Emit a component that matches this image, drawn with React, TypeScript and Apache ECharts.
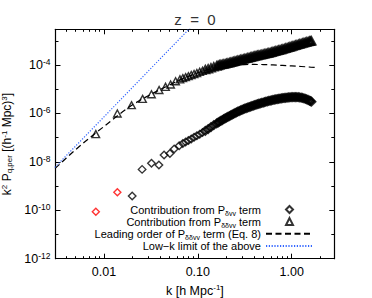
import React, { useEffect, useRef } from 'react';
import * as echarts from 'echarts';

// ---- axis ranges (data units) ----
const X_MIN = 0.00305;
const X_MAX = 2.84;
const Y_MIN = 1e-12;
const Y_MAX = 3.0e-3;

// ---- ticks ----
const xMajorTicks = [0.01, 0.1, 1];
const xTickLabels = ['0.01', '0.10', '1.00'];
const xMinorTicks = [0.004, 0.005, 0.006, 0.007, 0.008, 0.009, 0.02, 0.03, 0.04, 0.05, 0.06, 0.07, 0.08, 0.09, 0.2, 0.3, 0.4, 0.5, 0.6, 0.7, 0.8, 0.9, 2];
const yMajorTicks = [1e-12, 1e-10, 1e-8, 1e-6, 1e-4];
const yMinorTicks = [1e-11, 1e-9, 1e-7, 1e-5, 1e-3];

// ---- P_ddvv contribution (triangles) ----
const triK = [0.0082, 0.0139, 0.0197, 0.0258, 0.0321, 0.0387, 0.0453, 0.0513, 0.058, 0.0645];
const triP = [1.4e-7, 1.0e-6, 2.2e-6, 4.0e-6, 6.2e-6, 9.3e-6, 1.26e-5, 1.58e-5, 2.14e-5, 2.57e-5];

// dense part, first sampling (shared k for both bands)
const bandK = [0.0692, 0.0741, 0.0794, 0.0851, 0.0912, 0.0977, 0.1047, 0.1122, 0.1202, 0.1288, 0.1380, 0.1479, 0.1585, 0.1698, 0.1820, 0.1950, 0.2089, 0.2239, 0.2399, 0.2570, 0.2754, 0.2951, 0.3162, 0.3388, 0.3631, 0.3890, 0.4169, 0.4467, 0.4786, 0.5129, 0.5495, 0.5888, 0.6310, 0.6761, 0.7244, 0.7762, 0.8318, 0.8913, 0.9550, 1.0233, 1.0965, 1.1749, 1.2589, 1.3490, 1.4454, 1.5488, 1.622];
const triBandP = [2.88e-5, 3.16e-5, 3.47e-5, 3.89e-5, 4.27e-5, 4.68e-5, 5.25e-5, 5.75e-5, 6.46e-5, 6.92e-5, 7.59e-5, 8.32e-5, 9.12e-5, 1.00e-4, 1.06e-4, 1.12e-4, 1.20e-4, 1.29e-4, 1.38e-4, 1.48e-4, 1.59e-4, 1.70e-4, 1.82e-4, 1.95e-4, 2.09e-4, 2.24e-4, 2.40e-4, 2.54e-4, 2.69e-4, 2.88e-4, 3.05e-4, 3.24e-4, 3.51e-4, 3.80e-4, 4.07e-4, 4.37e-4, 4.73e-4, 5.13e-4, 5.56e-4, 6.03e-4, 6.53e-4, 7.08e-4, 7.67e-4, 8.32e-4, 8.91e-4, 9.55e-4, 9.89e-4];
// dense part, second sampling (high k, where bins crowd together)
const bandK2 = [0.1641, 0.1758, 0.1884, 0.2018, 0.2163, 0.2317, 0.2483, 0.2661, 0.2851, 0.3055, 0.3273, 0.3508, 0.3758, 0.4027, 0.4315, 0.4624, 0.4955, 0.5309, 0.5689, 0.6095, 0.6531, 0.6998, 0.7499, 0.8035, 0.8610, 0.9226, 0.9886, 1.0593, 1.1350, 1.2162, 1.3032, 1.3964, 1.4962, 1.585];
const triBandP2 = [9.55e-5, 1.03e-4, 1.09e-4, 1.16e-4, 1.24e-4, 1.33e-4, 1.43e-4, 1.53e-4, 1.64e-4, 1.76e-4, 1.88e-4, 2.02e-4, 2.16e-4, 2.32e-4, 2.47e-4, 2.62e-4, 2.79e-4, 2.97e-4, 3.14e-4, 3.37e-4, 3.65e-4, 3.94e-4, 4.22e-4, 4.54e-4, 4.93e-4, 5.34e-4, 5.79e-4, 6.27e-4, 6.80e-4, 7.37e-4, 7.99e-4, 8.61e-4, 9.23e-4, 9.72e-4];

// ---- P_dvv contribution (diamonds) ----
const diaK = [0.02, 0.0255, 0.0321, 0.0385, 0.0437, 0.0504, 0.056, 0.0633];
const diaP = [3.89e-10, 4.90e-9, 8.71e-9, 7.41e-9, 1.91e-8, 2.24e-8, 3.39e-8, 4.68e-8];
const diaBandP = [5.73e-8, 6.61e-8, 7.60e-8, 8.77e-8, 1.03e-7, 1.21e-7, 1.39e-7, 1.63e-7, 1.93e-7, 2.27e-7, 2.75e-7, 3.30e-7, 3.87e-7, 4.55e-7, 5.35e-7, 6.28e-7, 7.24e-7, 8.36e-7, 9.64e-7, 1.10e-6, 1.26e-6, 1.41e-6, 1.60e-6, 1.76e-6, 1.93e-6, 2.12e-6, 2.31e-6, 2.52e-6, 2.72e-6, 2.94e-6, 3.17e-6, 3.39e-6, 3.61e-6, 3.83e-6, 4.02e-6, 4.22e-6, 4.38e-6, 4.50e-6, 4.63e-6, 4.72e-6, 4.72e-6, 4.68e-6, 4.50e-6, 4.22e-6, 3.83e-6, 3.39e-6, 3.08e-6];
const diaBandP2 = [4.20e-7, 4.93e-7, 5.79e-7, 6.75e-7, 7.78e-7, 8.97e-7, 1.03e-6, 1.18e-6, 1.33e-6, 1.50e-6, 1.67e-6, 1.84e-6, 2.03e-6, 2.22e-6, 2.41e-6, 2.62e-6, 2.83e-6, 3.05e-6, 3.28e-6, 3.50e-6, 3.72e-6, 3.92e-6, 4.12e-6, 4.30e-6, 4.44e-6, 4.57e-6, 4.68e-6, 4.72e-6, 4.70e-6, 4.59e-6, 4.36e-6, 4.02e-6, 3.60e-6, 3.23e-6];
// negative-valued points (red)
const negK = [0.0082, 0.0139];
const negP = [8.7e-11, 5.62e-10];

// ---- leading order (dashed) ----
const leadK = [0.00302, 0.00398, 0.00501, 0.00631, 0.00822, 0.01, 0.0126, 0.0158, 0.02, 0.0251, 0.0316, 0.0398, 0.0501, 0.0631, 0.0794, 0.1, 0.126, 0.158, 0.2, 0.251, 0.316, 0.398, 0.501, 0.631, 0.794, 1.0, 1.26, 1.58, 1.82];
const leadP = [5.37e-9, 1.45e-8, 3.24e-8, 6.92e-8, 1.59e-7, 2.88e-7, 5.89e-7, 1.17e-6, 2.24e-6, 3.80e-6, 6.17e-6, 9.77e-6, 1.51e-5, 2.34e-5, 3.39e-5, 4.79e-5, 6.46e-5, 7.94e-5, 9.12e-5, 1.00e-4, 1.05e-4, 1.06e-4, 1.05e-4, 1.01e-4, 9.66e-5, 9.23e-5, 8.71e-5, 8.22e-5, 7.94e-5];

// ---- low-k limit (blue dotted) ----
const lowK = [0.003, 0.01, 0.03, 0.1];
const lowP = [5.9e-9, 7.2e-7, 5.9e-5, 7.2e-3];

const NAMES = ['dvv', 'ddvv', 'lead', 'lowk'];
const LEGEND_ICONS: Record<string, string | undefined> = { dvv: 'diamond', ddvv: 'triangle', lead: undefined, lowk: undefined };
const LEGEND_TEXT: Record<string, string> = {
  dvv: '{n|Contribution from P}{sub|δvv}{n| term}',
  ddvv: '{n|Contribution from P}{sub|δδvv}{n| term}',
  lead: '{n|Leading order of P}{sub|δδvv}{n| term (Eq. 8)}',
  lowk: '{n|Low−k limit of the above}',
};

const FONT = "'Liberation Sans', Arial, Helvetica, sans-serif";
const L = Math.log10;
const pts = (k: number[], p: number[]) => k.map((v, i) => [L(v), L(p[i])]);
const densePts = (k: number[], p: number[]) => k.map((v, i) => ({ value: [L(v), L(p[i])], itemStyle: { borderWidth: 2.3 } }));

function buildOption(): any {
  const xMin = L(X_MIN), xMax = L(X_MAX), yMin = L(Y_MIN), yMax = L(Y_MAX);
  const black = { color: '#000', width: 1.2 };
  const tickStyle = { color: '#000', width: 1 };
  const off = { show: false };
  const baseX = { type: 'value', min: xMin, max: xMax, splitLine: off, axisLabel: off, axisTick: off, axisLine: { show: false, onZero: false } };
  const baseY = { type: 'value', min: yMin, max: yMax, splitLine: off, axisLabel: off, axisTick: off, axisLine: { show: false, onZero: false } };
  const mk = (size: number, lh: number, extra: any = {}) => ({ fontSize: size, fontFamily: FONT, color: '#000', lineHeight: lh, ...extra });
  const legendRich = { n: mk(11, 14), sub: mk(7, 7, { verticalAlign: 'bottom' }), g: mk(11, 14, { width: 20 }) };
  const tickRich = { b: mk(12.5, 15), s: mk(8.5, 9, { verticalAlign: 'top' }) };
  const nameRich = { n: mk(12.5, 15), sup: mk(8, 9, { verticalAlign: 'top' }), sub: mk(8, 8, { verticalAlign: 'bottom' }) };
  const yNameRich = { n: mk(12, 13), sup: mk(8, 8, { verticalAlign: 'top' }), sub: mk(8, 8, { verticalAlign: 'bottom' }) };
  const yFmt = (v: number) => {
    const e = Math.round(v);
    return `{b|10}{s|${e < 0 ? '-' : ''}${Math.abs(e)}}`;
  };
  const xFmt = (v: number) => {
    let best = 0;
    xMajorTicks.forEach((t, i) => { if (Math.abs(L(t) - v) < Math.abs(L(xMajorTicks[best]) - v)) best = i; });
    return xTickLabels[best];
  };
  const hollow = (color: string) => ({ color: 'rgba(0,0,0,0)', borderColor: color, borderWidth: 1.4 });

  const legendRows = [204, 216.1, 228.3, 240.5];
  const legends = NAMES.map((nm, i) => {
    const icon = LEGEND_ICONS[nm];
    return {
      data: [icon ? { name: nm, icon } : { name: nm }],
      orient: 'vertical',
      align: 'right',
      right: icon ? 78 : 58,
      top: legendRows[i],
      padding: 0,
      itemGap: 0,
      itemWidth: icon ? 7 : 47,
      itemHeight: 7,
      selectedMode: false,
      formatter: (name: string) => LEGEND_TEXT[name] + (icon ? '{g| }' : ''),
      textStyle: { fontSize: 11, fontFamily: FONT, color: '#000', rich: legendRich },
    };
  });

  return {
    animation: false,
    backgroundColor: '#fff',
    textStyle: { fontFamily: FONT },
    grid: { left: 55.5, right: 37.7, top: 29.3, bottom: 39.3, containLabel: false, outerBoundsMode: 'none' },
    graphic: [
      { type: 'text', x: 195, y: 19, style: { text: 'z  =  0', font: `15px ${FONT}`, fill: '#333', textAlign: 'center', textVerticalAlign: 'middle' } },
    ],
    legend: legends,
    xAxis: [
      {
        ...baseX, position: 'bottom',
        axisLine: { show: true, onZero: false, lineStyle: black },
        axisTick: { show: true, inside: true, length: 5, customValues: xMajorTicks.map(L), lineStyle: tickStyle },
        axisLabel: { show: true, customValues: xMajorTicks.map(L), formatter: xFmt, margin: 7, fontSize: 12.5, color: '#000', fontFamily: FONT },
        name: '{n|k [h Mpc}{sup|-1}{n|]}', nameLocation: 'middle', nameGap: 24,
        nameTextStyle: { fontSize: 12.5, fontFamily: FONT, color: '#000', rich: nameRich },
      },
      { ...baseX, position: 'bottom', axisTick: { show: true, inside: true, length: 2.5, customValues: xMinorTicks.map(L), lineStyle: tickStyle } },
      { ...baseX, position: 'top', axisLine: { show: true, onZero: false, lineStyle: black }, axisTick: { show: true, inside: true, length: 5, customValues: xMajorTicks.map(L), lineStyle: tickStyle } },
      { ...baseX, position: 'top', axisTick: { show: true, inside: true, length: 2.5, customValues: xMinorTicks.map(L), lineStyle: tickStyle } },
    ],
    yAxis: [
      {
        ...baseY, position: 'left',
        axisLine: { show: true, onZero: false, lineStyle: black },
        axisTick: { show: true, inside: true, length: 5, customValues: yMajorTicks.map(L), lineStyle: tickStyle },
        axisLabel: { show: true, customValues: yMajorTicks.map(L), formatter: yFmt, margin: 5, rich: tickRich },
        name: '{n|k}{sup|2}{n| P}{sub|q,per}{n| [(h}{sup|-1}{n| Mpc)}{sup|3}{n|]}', nameLocation: 'middle', nameRotate: 90, nameGap: 32,
        nameTextStyle: { fontSize: 12, fontFamily: FONT, color: '#000', rich: yNameRich },
      },
      { ...baseY, position: 'left', axisTick: { show: true, inside: true, length: 3, customValues: yMinorTicks.map(L), lineStyle: tickStyle } },
      { ...baseY, position: 'right', axisLine: { show: true, onZero: false, lineStyle: black }, axisTick: { show: true, inside: true, length: 5, customValues: yMajorTicks.map(L), lineStyle: tickStyle } },
      { ...baseY, position: 'right', axisTick: { show: true, inside: true, length: 3, customValues: yMinorTicks.map(L), lineStyle: tickStyle } },
    ],
    series: [
      {
        name: 'lead', type: 'line', xAxisIndex: 0, yAxisIndex: 0, data: pts(leadK, leadP),
        symbol: 'none', showSymbol: false, clip: true,
        lineStyle: { color: '#000', width: 1.2, type: [6, 3.5] }, itemStyle: { color: '#000', opacity: 0 }, z: 2,
      },
      {
        name: 'lowk', type: 'line', xAxisIndex: 0, yAxisIndex: 0, data: pts(lowK, lowP),
        symbol: 'none', showSymbol: false, clip: true,
        lineStyle: { color: '#3366ff', width: 1.2, type: [1.2, 1.6] }, itemStyle: { color: '#3366ff', opacity: 0 }, z: 2,
      },
      {
        name: 'ddvv', type: 'scatter', xAxisIndex: 0, yAxisIndex: 0,
        data: [...pts(triK, triP), ...pts(bandK.slice(0, 8), triBandP.slice(0, 8)), ...densePts(bandK.slice(8), triBandP.slice(8)), ...densePts(bandK2, triBandP2)],
        symbol: 'triangle', symbolSize: [7.5, 7], itemStyle: hollow('#000'), z: 3,
      },
      {
        name: 'dvv', type: 'scatter', xAxisIndex: 0, yAxisIndex: 0,
        data: [...pts(diaK, diaP), ...pts(bandK.slice(0, 8), diaBandP.slice(0, 8)), ...densePts(bandK.slice(8), diaBandP.slice(8)), ...densePts(bandK2, diaBandP2)],
        symbol: 'diamond', symbolSize: 7.5, itemStyle: hollow('#000'), z: 3,
      },
      {
        name: 'neg', type: 'scatter', xAxisIndex: 0, yAxisIndex: 0,
        data: pts(negK, negP),
        symbol: 'diamond', symbolSize: 7, itemStyle: hollow('#ff0000'), z: 3,
      },
    ],
  };
}

export default function App() {
  const ref = useRef<HTMLDivElement>(null);
  useEffect(() => {
    if (!ref.current) return;
    const chart = echarts.init(ref.current, null, { renderer: 'svg' });
    chart.setOption(buildOption());
    return () => chart.dispose();
  }, []);
  return <div ref={ref} style={{ position: 'absolute', left: 0, top: 0, width: 372, height: 298 }} />;
}
